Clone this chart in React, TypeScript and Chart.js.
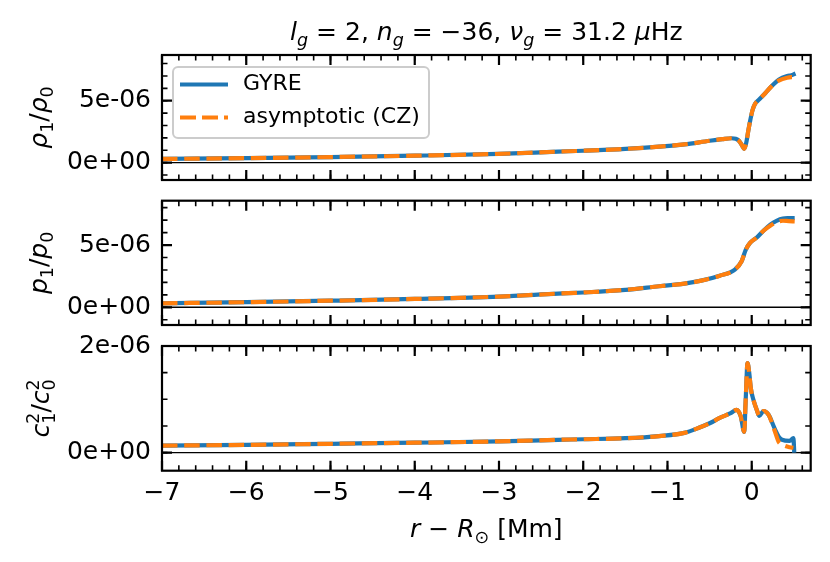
import { useEffect, useRef } from "react";
import { Chart, registerables } from "chart.js";

Chart.register(...registerables);

const FONT = "'DejaVu Sans', sans-serif";
const BLUE = "#1f77b4";
const ORANGE = "#ff7f0e";
const TICK_SIZE = 25;

// shared x range, r - R_sun in Mm
const X_MIN = -7;
const X_MAX = 0.7;
const X_TICKS = [-7, -6, -5, -4, -3, -2, -1, 0];

// horizontal zero line
const ZERO_X = [X_MIN, X_MAX];
const ZERO_Y = [0, 0];

// all amplitudes below are in units of 1e-6
// rho_1 / rho_0
const RHO_X = [-7, -6, -5, -4, -3, -2.3, -2, -1.5, -1.1, -0.8, -0.5, -0.35, -0.24, -0.19, -0.15, -0.12, -0.09, -0.065, -0.04, -0.015, 0.01, 0.04, 0.08, 0.16, 0.24, 0.32, 0.42, 0.47, 0.52];
const RHO_GYRE = [0.3, 0.36, 0.45, 0.56, 0.71, 0.89, 0.96, 1.11, 1.29, 1.47, 1.77, 1.9, 1.97, 1.93, 1.75, 1.45, 1.12, 1.6, 2.6, 3.5, 4.25, 4.75, 5.05, 5.6, 6.2, 6.7, 7.0, 7.05, 7.2];
const RHO_ASYM = [0.3, 0.36, 0.45, 0.56, 0.71, 0.89, 0.96, 1.11, 1.29, 1.47, 1.77, 1.9, 1.97, 1.93, 1.75, 1.45, 1.12, 1.6, 2.6, 3.5, 4.25, 4.75, 5.05, 5.6, 6.2, 6.62, 6.86, 6.9, 6.9];
const RHO_TICKS = [0, 5];

// p_1 / p_0
const P_X = [-7, -6, -5, -4, -3, -2.3, -2, -1.5, -1.1, -0.8, -0.6, -0.38, -0.2, -0.12, -0.07, -0.02, 0.06, 0.14, 0.22, 0.3, 0.37, 0.44, 0.51];
const P_GYRE = [0.32, 0.41, 0.53, 0.67, 0.86, 1.1, 1.19, 1.4, 1.69, 1.9, 2.14, 2.54, 3.03, 3.7, 4.63, 5.17, 5.6, 6.15, 6.64, 6.96, 7.12, 7.16, 7.17];
const P_ASYM = [0.32, 0.41, 0.53, 0.67, 0.86, 1.1, 1.19, 1.4, 1.69, 1.9, 2.14, 2.54, 3.03, 3.7, 4.63, 5.17, 5.6, 6.15, 6.55, 6.85, 6.95, 6.92, 6.9];
const P_TICKS = [0, 5];

// c_1^2 / c_0^2
const C_X = [-7, -6, -5, -4, -3, -2.3, -2, -1.5, -1.1, -0.8, -0.62, -0.5, -0.38, -0.25, -0.18, -0.13, -0.09, -0.07, -0.05, -0.03, -0.01, 0.02, 0.06, 0.09, 0.14, 0.2, 0.27, 0.32, 0.36, 0.45, 0.495, 0.505];
const C_GYRE = [0.13, 0.145, 0.165, 0.185, 0.21, 0.24, 0.25, 0.27, 0.31, 0.37, 0.47, 0.55, 0.65, 0.74, 0.8, 0.68, 0.39, 1.05, 1.68, 1.5, 1.2, 0.99, 0.8, 0.69, 0.78, 0.71, 0.46, 0.3, 0.24, 0.22, 0.27, 0.0];
const C_ASYM = [0.13, 0.145, 0.165, 0.185, 0.21, 0.24, 0.25, 0.27, 0.31, 0.37, 0.47, 0.55, 0.65, 0.74, 0.8, 0.68, 0.39, 1.05, 1.68, 1.5, 1.2, 0.99, 0.8, 0.69, 0.78, 0.71, 0.42, 0.2, 0.15, 0.1, 0.09, null];
const C_TICKS = [0, 2];

const LEGEND_LABELS = ["GYRE", "asymptotic (CZ)"];

// ─── little mathtext-ish text helper ─────────────────────────────
type Seg = { t: string; it?: boolean; sub?: string; sup?: string; subIt?: boolean };

function fontOf(size: number, it?: boolean) {
  return `${it ? "italic " : ""}${size}px ${FONT}`;
}

function segWidth(ctx: CanvasRenderingContext2D, s: Seg, size: number) {
  ctx.font = fontOf(size, s.it);
  const w = ctx.measureText(s.t).width;
  const small = size * 0.7;
  let ws = 0;
  if (s.sub) {
    ctx.font = fontOf(small, s.subIt);
    ws = ctx.measureText(s.sub).width;
  }
  if (s.sup) {
    ctx.font = fontOf(small);
    ws = Math.max(ws, ctx.measureText(s.sup).width);
  }
  return w + ws;
}

function drawRich(ctx: CanvasRenderingContext2D, segs: Seg[], cx: number, baseline: number, size: number) {
  const total = segs.reduce((acc, s) => acc + segWidth(ctx, s, size), 0);
  let x = cx - total / 2;
  ctx.textAlign = "left";
  ctx.textBaseline = "alphabetic";
  ctx.fillStyle = "#000";
  for (const s of segs) {
    ctx.font = fontOf(size, s.it);
    ctx.fillText(s.t, x, baseline);
    x += ctx.measureText(s.t).width;
    const small = size * 0.7;
    let ws = 0;
    if (s.sub) {
      ctx.font = fontOf(small, s.subIt);
      ctx.fillText(s.sub, x, baseline + size * 0.22);
      ws = ctx.measureText(s.sub).width;
    }
    if (s.sup) {
      ctx.font = fontOf(small);
      ctx.fillText(s.sup, x, baseline - size * 0.42);
      ws = Math.max(ws, ctx.measureText(s.sup).width);
    }
    x += ws;
  }
}

const TITLE: Seg[] = [
  { t: "l", it: true, sub: "g", subIt: true },
  { t: " = 2, " },
  { t: "n", it: true, sub: "g", subIt: true },
  { t: " = \u221236, " },
  { t: "\u03bd", it: true, sub: "g", subIt: true },
  { t: " = 31.2 " },
  { t: "\u03bc", it: true },
  { t: "Hz" },
];

const X_LABEL: Seg[] = [
  { t: "r", it: true },
  { t: " \u2212 " },
  { t: "R", it: true, sub: "\u2299" },
  { t: " [Mm]" },
];

// ─── tick formatting ─────────────────────────────────────────────
function fmtX(v: number | string) {
  const n = Number(v);
  return n < 0 ? `\u2212${Math.abs(n)}` : String(n);
}

function fmtY(v: number | string) {
  const n = Math.round(Number(v) * 1000) / 1000;
  if (n === 0) return "0e+00";
  const [m, e] = (n * 1e-6).toExponential(0).split("e");
  const sign = e[0] === "-" ? "-" : "+";
  return `${m}e${sign}${e.replace(/^[+-]/, "").padStart(2, "0")}`;
}

type PanelCfg = {
  top: number;
  height: number;
  padTop: number;
  padBottom: number;
  xs: number[];
  gyre: number[];
  asym: (number | null)[];
  yMin: number;
  yMax: number;
  yTicks: number[];
  yMinor: number;
  yLabel: Seg[];
  yLabelX: number;
  showX?: boolean;
  title?: boolean;
  legend?: boolean;
};

function Panel({ cfg }: { cfg: PanelCfg }) {
  const canvasRef = useRef<HTMLCanvasElement>(null);

  useEffect(() => {
    if (!canvasRef.current) return;

    // inward ticks on all four sides + frame, matplotlib style
    const framePlugin = {
      id: "frameTicks",
      afterDatasetsDraw(chart: Chart) {
        const { ctx, chartArea: a } = chart;
        const xs = chart.scales.x;
        const ys = chart.scales.y;
        ctx.save();
        ctx.strokeStyle = "#000";
        const mark = (scale: any, values: number[], len: number, w: number, horiz: boolean) => {
          ctx.lineWidth = w;
          ctx.beginPath();
          for (const v of values) {
            const p = scale.getPixelForValue(v);
            if (horiz) {
              ctx.moveTo(p, a.bottom);
              ctx.lineTo(p, a.bottom - len);
              ctx.moveTo(p, a.top);
              ctx.lineTo(p, a.top + len);
            } else {
              ctx.moveTo(a.left, p);
              ctx.lineTo(a.left + len, p);
              ctx.moveTo(a.right, p);
              ctx.lineTo(a.right - len, p);
            }
          }
          ctx.stroke();
        };
        const minors = (scale: any, step: number) => {
          const out: number[] = [];
          const start = Math.ceil(scale.min / step - 1e-9);
          const end = Math.floor(scale.max / step + 1e-9);
          for (let i = start; i <= end; i++) out.push(i * step);
          return out;
        };
        mark(xs, minors(xs, 0.2), 5.5, 1.6, true);
        mark(xs, X_TICKS, 10, 2.2, true);
        mark(ys, minors(ys, cfg.yMinor), 5.5, 1.6, false);
        mark(ys, cfg.yTicks, 10, 2.2, false);
        ctx.lineWidth = 2.2;
        ctx.strokeRect(a.left, a.top, a.right - a.left, a.bottom - a.top);
        ctx.restore();
      },
      afterDraw(chart: Chart) {
        const { ctx, chartArea: a } = chart;
        ctx.save();
        // y label, rotated
        ctx.translate(cfg.yLabelX, (a.top + a.bottom) / 2);
        ctx.rotate(-Math.PI / 2);
        drawRich(ctx, cfg.yLabel, 0, 0, TICK_SIZE);
        ctx.restore();

        const cx = (a.left + a.right) / 2;
        if (cfg.title) {
          ctx.save();
          drawRich(ctx, TITLE, cx, 40, TICK_SIZE);
          ctx.restore();
        }
        if (cfg.showX) {
          ctx.save();
          drawRich(ctx, X_LABEL, cx, 537 - cfg.top, TICK_SIZE);
          ctx.restore();
        }
        if (cfg.legend) {
          const bx = a.left + 11;
          const by = a.top + 12;
          ctx.save();
          ctx.beginPath();
          ctx.roundRect(bx, by, 256, 71, 5);
          ctx.fillStyle = "rgba(255,255,255,0.8)";
          ctx.fill();
          ctx.strokeStyle = "#cccccc";
          ctx.lineWidth = 2;
          ctx.stroke();
          const rows = [
            { y: by + 17.5, color: BLUE, dash: [] as number[] },
            { y: by + 50.5, color: ORANGE, dash: [16, 6] },
          ];
          rows.forEach((r, i) => {
            ctx.beginPath();
            ctx.setLineDash(r.dash);
            ctx.strokeStyle = r.color;
            ctx.lineWidth = 4.2;
            ctx.lineCap = "butt";
            ctx.moveTo(bx + 7, r.y);
            ctx.lineTo(bx + 55, r.y);
            ctx.stroke();
            ctx.setLineDash([]);
            ctx.fillStyle = "#000";
            ctx.font = fontOf(22);
            ctx.textAlign = "left";
            ctx.textBaseline = "middle";
            ctx.fillText(LEGEND_LABELS[i], bx + 70, r.y);
          });
          ctx.restore();
        }
      },
    };

    const chart = new Chart(canvasRef.current, {
      type: "line",
      plugins: [framePlugin],
      data: {
        datasets: [
          {
            label: "zero",
            data: ZERO_X.map((x, i) => ({ x, y: ZERO_Y[i] })),
            borderColor: "#000",
            borderWidth: 1.4,
            order: 3,
          },
          {
            label: LEGEND_LABELS[0],
            data: cfg.xs.map((x, i) => ({ x, y: cfg.gyre[i] })),
            borderColor: BLUE,
            borderWidth: 4.2,
            cubicInterpolationMode: "monotone",
            borderJoinStyle: "round",
            order: 2,
          },
          {
            label: LEGEND_LABELS[1],
            data: cfg.xs.map((x, i) => ({ x, y: cfg.asym[i] })),
            borderColor: ORANGE,
            borderWidth: 4.2,
            borderDash: [15.5, 6.7],
            borderCapStyle: "butt",
            cubicInterpolationMode: "monotone",
            order: 1,
          },
        ],
      },
      options: {
        responsive: false,
        animation: false,
        events: [],
        layout: { padding: { top: cfg.padTop, bottom: cfg.padBottom, left: 0, right: 830 - 810.7 } },
        elements: { point: { radius: 0 } },
        plugins: { legend: { display: false }, tooltip: { enabled: false } },
        scales: {
          x: {
            type: "linear",
            min: X_MIN,
            max: X_MAX,
            display: !!cfg.showX,
            grid: { display: false, drawTicks: false },
            border: { display: false },
            afterBuildTicks: (s: any) => {
              s.ticks = X_TICKS.map((value) => ({ value }));
            },
            ticks: {
              autoSkip: false,
              maxRotation: 0,
              padding: 8,
              color: "#000",
              font: { family: FONT, size: TICK_SIZE },
              callback: fmtX,
            },
            afterFit: (s: any) => {
              s.height = cfg.showX ? 562 - 470.7 : 0;
              s.paddingLeft = 0;
              s.paddingRight = 0;
            },
          },
          y: {
            type: "linear",
            min: cfg.yMin,
            max: cfg.yMax,
            grid: { display: false, drawTicks: false },
            border: { display: false },
            afterBuildTicks: (s: any) => {
              s.ticks = cfg.yTicks.map((value) => ({ value }));
            },
            ticks: {
              autoSkip: false,
              padding: 11,
              color: "#000",
              font: { family: FONT, size: TICK_SIZE },
              callback: fmtY,
            },
            afterFit: (s: any) => {
              s.width = 162;
              s.paddingTop = 0;
              s.paddingBottom = 0;
            },
          },
        },
      },
    });
    return () => chart.destroy();
  }, [cfg]);

  return (
    <canvas
      ref={canvasRef}
      width={830}
      height={cfg.height}
      style={{ position: "absolute", left: 0, top: cfg.top, width: 830, height: cfg.height }}
    />
  );
}

const PANELS: PanelCfg[] = [
  {
    top: 0,
    height: 190,
    padTop: 55,
    padBottom: 10,
    xs: RHO_X,
    gyre: RHO_GYRE,
    asym: RHO_ASYM,
    yMin: -1.4,
    yMax: 8.69,
    yTicks: RHO_TICKS,
    yMinor: 1,
    yLabel: [{ t: "\u03c1", it: true, sub: "1" }, { t: "/" }, { t: "\u03c1", it: true, sub: "0" }],
    yLabelX: 47,
    title: true,
    legend: true,
  },
  {
    top: 190,
    height: 145,
    padTop: 10.7,
    padBottom: 10,
    xs: P_X,
    gyre: P_GYRE,
    asym: P_ASYM,
    yMin: -1.42,
    yMax: 8.56,
    yTicks: P_TICKS,
    yMinor: 1,
    yLabel: [{ t: "p", it: true, sub: "1" }, { t: "/" }, { t: "p", it: true, sub: "0" }],
    yLabelX: 47,
  },
  {
    top: 335,
    height: 227,
    padTop: 11,
    padBottom: 0,
    xs: C_X,
    gyre: C_GYRE,
    asym: C_ASYM,
    yMin: -0.34,
    yMax: 2.0,
    yTicks: C_TICKS,
    yMinor: 0.5,
    yLabel: [{ t: "c", it: true, sub: "1", sup: "2" }, { t: "/" }, { t: "c", it: true, sub: "0", sup: "2" }],
    yLabelX: 49,
    showX: true,
  },
];

export default function App() {
  return (
    <div style={{ position: "absolute", left: 0, top: 0, width: 830, height: 562, background: "#fff" }}>
      {PANELS.map((p, i) => (
        <Panel key={i} cfg={p} />
      ))}
    </div>
  );
}
